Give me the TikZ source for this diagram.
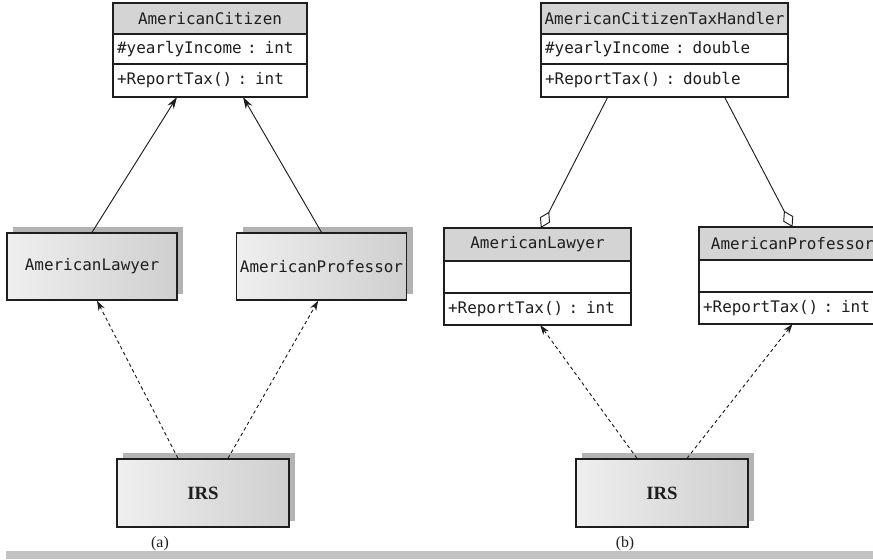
\documentclass[tikz,border=0pt]{standalone}
\usepackage{fontspec}
\setmainfont{Liberation Serif}
\newfontfamily\umlmono{DejaVu Sans Mono}
\usepackage{tikz}
\usetikzlibrary{positioning,arrows.meta,shadows,calc}
\definecolor{ink}{HTML}{1E1E1E}
\definecolor{headGray}{HTML}{D4D4D4}
\definecolor{boxLt}{HTML}{EFEFEF}
\definecolor{boxDk}{HTML}{CFCFCF}
\definecolor{shadowGray}{HTML}{B3B3B3}
\definecolor{footGray}{HTML}{C2C2C2}

\tikzset{
  umltext/.style={font=\umlmono\fontsize{13.6}{16}\selectfont, text=ink},
  clshead/.style={umltext, draw=ink, line width=1.1pt, fill=headGray, outer sep=0pt,
                  inner xsep=2pt, inner ysep=0pt, minimum width=#1, align=center, minimum height=0.93cm},
  clsrow/.style={umltext, draw=ink, line width=1.1pt, fill=white, outer sep=0pt,
                 inner xsep=3.5pt, inner ysep=0pt, text width=#1-7pt, align=left, minimum height=0.93cm},
  plainbox/.style={umltext, draw=ink, line width=1.1pt, left color=boxLt, right color=boxDk,
                   minimum width=5.1cm, minimum height=2.01cm, inner sep=0pt,
                   drop shadow={shadow xshift=0.18cm, shadow yshift=0.18cm, fill=shadowGray, opacity=1}},
  irsbox/.style={plainbox, font=\bfseries\fontsize{16}{18}\selectfont, minimum width=5.16cm, minimum height=2.04cm},
  caption/.style={font=\fontsize{13.5}{15}\selectfont, text=ink},
  genline/.style={draw=ink, line width=0.8pt, -{Stealth[length=0.36cm, width=0.22cm]}},
  usedash/.style={draw=ink, line width=0.8pt, dash pattern=on 3pt off 2.5pt, -{Stealth[length=0.3cm, width=0.2cm]}},
  aggline/.style={draw=ink, line width=0.8pt, -{Diamond[fill=white, length=0.55cm, width=0.34cm]}}
}

\begin{document}
\begin{tikzpicture}[x=0.03cm, y=-0.03cm]
  \useasboundingbox (0,0) rectangle (873,559);
  \clip (0,0) rectangle (873,559);
  \fill[white] (0,0) rectangle (873,559);
  \fill[footGray] (6,551) rectangle (873,559);

  % (a) inheritance
  \node[clshead=5.82cm, anchor=north] (citH) at (210,3) {AmericanCitizen};
  \node[clsrow=5.82cm, below=0pt of citH, minimum height=0.9cm] (citA) {\#yearlyIncome : int};
  \node[clsrow=5.82cm, below=0pt of citA, minimum height=0.99cm] (citM) {+ReportTax() : int};

  \node[plainbox] (lawA) at (92,266.5) {AmericanLawyer};
  \node[plainbox] (profA) at (321.5,266.5) {AmericanProfessor};
  \node[irsbox] (irsA) at (203,493) {IRS};
  \node[caption] (capA) at (160,544) {(a)};

  \draw[genline] (lawA.north) -- ([xshift=-0.99cm]citM.south);
  \draw[genline] (profA.north) -- ([xshift=0.99cm]citM.south);
  \draw[usedash] ([xshift=-0.75cm]irsA.north) -- ([xshift=0.15cm]lawA.south);
  \draw[usedash] ([xshift=0.75cm]irsA.north) -- ([xshift=-0.1cm]profA.south);

  % (b) tax handler
  \node[clshead=7.41cm, anchor=north] (taxH) at (664.5,3) {AmericanCitizenTaxHandler};
  \node[clsrow=7.41cm, below=0pt of taxH, minimum height=0.9cm] (taxA) {\#yearlyIncome : double};
  \node[clsrow=7.41cm, below=0pt of taxA, minimum height=0.99cm] (taxM) {+ReportTax() : double};

  \node[clshead=5.61cm, anchor=north, minimum height=0.99cm] (lawBH) at (537.5,228) {AmericanLawyer};
  \node[clsrow=5.61cm, below=0pt of lawBH, minimum height=0.96cm] (lawBA) {};
  \node[clsrow=5.61cm, below=0pt of lawBA, minimum height=0.96cm] (lawBM) {+ReportTax() : int};

  \node[clshead=5.61cm, anchor=north, minimum height=0.99cm] (profBH) at (792.5,227) {AmericanProfessor};
  \node[clsrow=5.61cm, below=0pt of profBH, minimum height=0.96cm] (profBA) {};
  \node[clsrow=5.61cm, below=0pt of profBA, minimum height=0.96cm] (profBM) {+ReportTax() : int};

  \node[irsbox] (irsB) at (662,493) {IRS};
  \node[caption] (capB) at (625,544) {(b)};

  \draw[aggline] ([xshift=-1.7cm]taxM.south) -- ([xshift=0.1cm]lawBH.north);
  \draw[aggline] ([xshift=1.8cm]taxM.south) -- (profBH.north);
  \draw[usedash] ([xshift=-0.75cm]irsB.north) -- ([xshift=0.08cm]lawBM.south);
  \draw[usedash] ([xshift=0.75cm]irsB.north) -- (profBM.south);
\end{tikzpicture}
\end{document}
